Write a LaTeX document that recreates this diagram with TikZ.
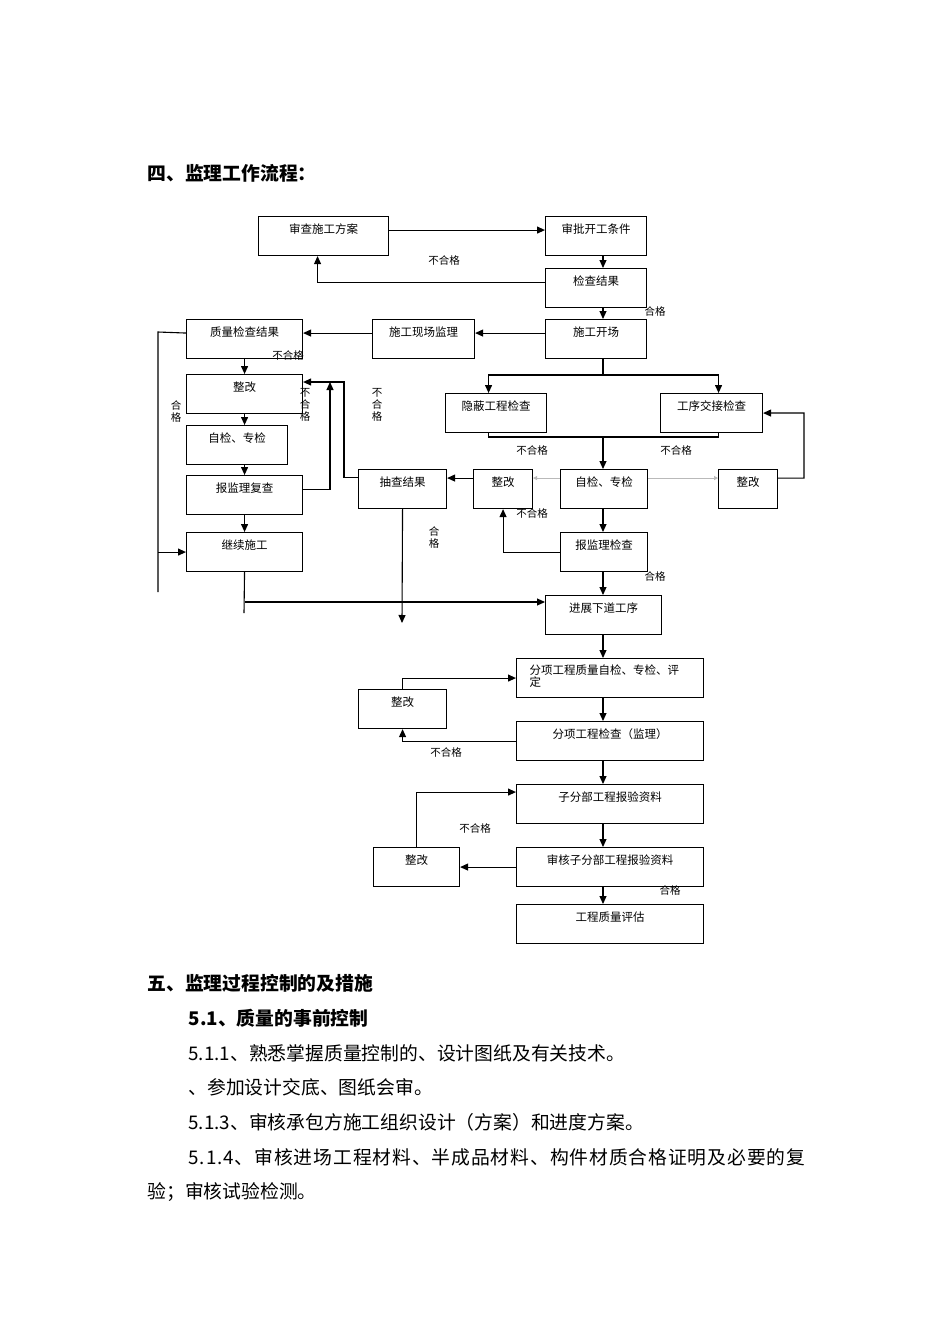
\documentclass[tikz,border=0pt]{standalone}
\usepackage{fontspec}
\newfontfamily\cjk{Noto Sans CJK SC}
\usetikzlibrary{arrows.meta}

\begin{document}
\begin{tikzpicture}[x=1pt, y=-1pt, line width=1.1pt,
    box/.style={draw, anchor=north west, minimum width=#1, inner xsep=1pt, inner ysep=0pt,
                text height=17pt, text depth=22pt, font=\cjk\fontsize{11.5}{13}\selectfont},
    arr/.style={-{Triangle[length=8pt,width=7pt]}},
    faint/.style={gray!55, line width=0.6pt, -{Triangle[length=4pt,width=4pt]}},
    tag/.style={inner sep=0pt, align=center, font=\cjk\fontsize{10.5}{12}\selectfont},
    head/.style={anchor=west, inner sep=0pt, font=\cjk\bfseries\fontsize{18.8}{22}\selectfont},
    para/.style={anchor=west, inner sep=0pt, font=\cjk\fontsize{18.8}{22}\selectfont}]

    \path[use as bounding box, fill=white] (0,0) rectangle (950,1344);

    \node[head] (h4) at (147,173) {四、监理工作流程：};

    % Start of works
    \node[box=130] (fa) at (258,216) {审查施工方案};
    \node[box=101] (fb) at (545,216) {审批开工条件};
    \node[box=101] (fc) at (545,268) {检查结果};
    \node[box=101] (fd) at (545,319) {施工开场};
    \node[box=102] (fe) at (372,319) {施工现场监理};
    \node[box=116] (ff) at (186,319) {质量检查结果};

    % Left column
    \node[box=116] (fg) at (186,374) {整改};
    \node[box=101] (fh) at (186,425) {自检、专检};
    \node[box=116] (fi) at (186,475) {报监理复查};
    \node[box=116] (fj) at (186,532) {继续施工};

    % Middle part
    \node[box=101] (fk) at (445,393) {隐蔽工程检查};
    \node[box=102] (fl) at (660,393) {工序交接检查};
    \node[box=88] (fm) at (358,469) {抽查结果};
    \node[box=59] (fn) at (473,469) {整改};
    \node[box=87] (fo) at (560,469) {自检、专检};
    \node[box=59] (fp) at (718,469) {整改};
    \node[box=87] (fq) at (560,532) {报监理检查};
    \node[box=116] (fr) at (545,595) {进展下道工序};

    % Lower part
    \node[box=187] (fs) at (516,658) {};
    \node[anchor=north west, inner sep=0pt, align=left, font=\cjk\fontsize{11.5}{12}\selectfont]
        (fst) at (529,664) {分项工程质量自检、专检、评\\定};
    \node[box=88] (ft) at (358,689) {整改};
    \node[box=187] (fu) at (516,721) {分项工程检查（监理）};
    \node[box=187] (fv) at (516,784) {子分部工程报验资料};
    \node[box=187] (fw) at (516,847) {审核子分部工程报验资料};
    \node[box=86] (fx) at (373,847) {整改};
    \node[box=187] (fy) at (516,904) {工程质量评估};

    % Main line
    \coordinate (mid) at (603,0);
    \draw[arr] ([yshift=6]fa.east) -- ([yshift=6]fb.west);
    \foreach \a/\b in {fb/fc,fc/fd,fo/fq,fq/fr,fr/fs,fs/fu,fu/fv,fv/fw,fw/fy} {
        \draw[arr] (\a.south -| mid) -- (\b.north -| mid);
    }
    \draw[arr] ([yshift=6]fc.west) -| ([xshift=-6]fa.south);
    \draw[arr] ([yshift=6]fd.west) -- ([yshift=6]fe.east);
    \draw[arr] ([yshift=6]fe.west) -- ([yshift=6]ff.east);

    % Left loops
    \coordinate (lt) at (158,332);
    \coordinate (lb) at (158,592);
    \draw ([yshift=6]ff.west) -- (lt) -- (lb);
    \draw[arr] (fj.west -| lb) -- (fj.west);
    \draw[arr] (ff.south) -- (fg.north);
    \draw[arr] (fg.south) -- (fh.north -| fg.south);
    \draw[arr] (fh.south -| fi.north) -- (fi.north);
    \draw[arr] (fi.south) -- (fj.north);
    \coordinate (jb) at (244,613);
    \draw (fj.south) -- (jb);
    \draw[arr] ([yshift=-7]fr.north west -| fj.south) -- ([yshift=-7]fr.north west);
    \coordinate (mb) at (402,623);
    \draw[arr] (fm.south) -- (mb);
    \coordinate (rk) at (344,382);
    \coordinate (uk) at (330,382);
    \draw[arr] ([yshift=12]fm.west) -| (rk) -- (rk -| fg.east);
    \draw[arr] ([yshift=6]fi.east) -| (uk);

    % Middle loops
    \coordinate (br) at (603,375);
    \coordinate (mg) at (603,437);
    \draw (fd.south -| mid) -- (br);
    \draw[arr] (br) -| ([xshift=-7.5]fk.north);
    \draw[arr] (br) -| ([xshift=7]fl.north);
    \draw ([xshift=-7.5]fk.south) |- (mg);
    \draw ([xshift=7]fl.south) |- (mg);
    \draw[arr] (mg) -- (fo.north -| mid);
    \draw[arr] (fq.west) -| (fn.south);
    \draw[arr] ([yshift=11]fn.west) -- ([yshift=11]fm.east);
    \draw[faint] ([yshift=11]fo.west) -- ([yshift=11]fn.east);
    \draw[faint] ([yshift=11]fo.east) -- ([yshift=11]fp.west);
    \coordinate (rl) at (804,413);
    \draw[arr] ([yshift=11]fp.east) -| (rl) -- (fl.east);

    % Lower loops
    \draw[arr] (ft.north) |- (fs.west);
    \draw[arr] (fu.west) -| (ft.south);
    \draw[arr] (fw.west) -- (fx.east);
    \draw[arr] (fx.north) |- ([yshift=12]fv.west);

    % Labels
    \node[tag] (n1) at (444,260) {不合格};
    \node[tag] (g1) at (655,311) {合格};
    \node[tag] (n2) at (288,355) {不合格};
    \node[tag] (g2) at (176,411) {合\\格};
    \node[tag] (n3) at (305,405) {不\\合\\格};
    \node[tag] (n4) at (377,405) {不\\合\\格};
    \node[tag] (n5) at (532,450) {不合格};
    \node[tag] (n6) at (676,450) {不合格};
    \node[tag] (n7) at (532,513) {不合格};
    \node[tag] (g3) at (434,537) {合\\格};
    \node[tag] (g4) at (655,576) {合格};
    \node[tag] (n8) at (446,752) {不合格};
    \node[tag] (n9) at (475,828) {不合格};
    \node[tag] (g5) at (670,890) {合格};

    % Text below
    \node[head] (h5) at (147,983) {五、监理过程控制的及措施};
    \node[head] (h51) at (188,1018) {5.1、质量的事前控制};
    \node[para] (p1) at (188,1053) {5.1.1、熟悉掌握质量控制的、设计图纸及有关技术。};
    \node[para] (p2) at (188,1087) {、参加设计交底、图纸会审。};
    \node[para] (p3) at (188,1122) {5.1.3、审核承包方施工组织设计（方案）和进度方案。};
    \node[para] (p4) at (188,1157) {\addfontfeature{LetterSpace=4.8}5.1.4、审核进场工程材料、半成品材料、构件材质合格证明及必要的复};
    \node[para] (p5) at (147,1192) {验；审核试验检测。};
\end{tikzpicture}
\end{document}
